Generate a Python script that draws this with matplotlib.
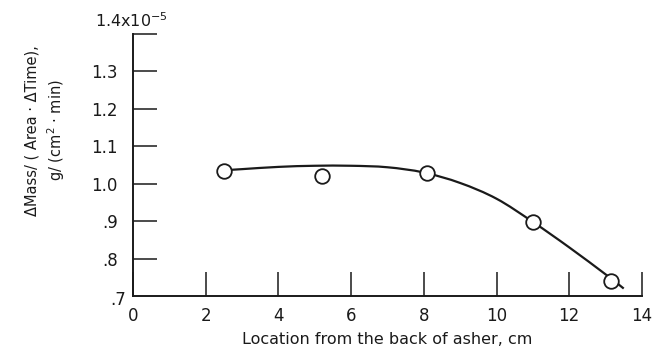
import matplotlib
matplotlib.use('Agg')
import matplotlib.pyplot as plt
from matplotlib.path import Path
from matplotlib.patches import PathPatch
import numpy as np

plt.rcParams['font.family'] = ['Liberation Sans Narrow', 'DejaVu Sans']

# measured points
location = [2.5, 5.2, 8.1, 11.0, 13.15]
rate = [1.034, 1.020, 1.030, 0.897, 0.740]

# faired curve through the data
curve_x = [2.5, 3.0, 4.0, 5.0, 6.0, 7.0, 8.0, 9.0, 10.0, 11.0, 12.0, 13.0, 13.5]
curve_y = [1.036, 1.039, 1.045, 1.048, 1.048, 1.044, 1.030, 1.002, 0.960, 0.898, 0.830, 0.758, 0.720]

xticks = [0, 2, 4, 6, 8, 10, 12, 14]
xtick_labels = ['0', '2', '4', '6', '8', '10', '12', '14']
yticks = [0.8, 0.9, 1.0, 1.1, 1.2, 1.3, 1.4]
ytick_labels = ['.8', '.9', '1.0', '1.1', '1.2', '1.3', '']

ink = '#1a1a1a'

fig = plt.figure(figsize=(6.53, 3.52), dpi=100)
ax = fig.add_axes([0.2037, 0.1590, 0.7793, 0.7444])
ax.set_xlim(0, 14)
ax.set_ylim(0.7, 1.4)


def smooth_path(xs, ys):
    # catmull-rom through the faired points, written as cubic bezier segments
    p = np.column_stack([xs, ys])
    verts = [p[0]]
    codes = [Path.MOVETO]
    for i in range(len(p) - 1):
        p0 = p[i - 1] if i > 0 else p[i]
        p3 = p[i + 2] if i + 2 < len(p) else p[i + 1]
        c1 = p[i] + (p[i + 1] - p0) / 6.0
        c2 = p[i + 1] - (p3 - p[i]) / 6.0
        verts += [c1, c2, p[i + 1]]
        codes += [Path.CURVE4] * 3
    return Path(verts, codes)


ax.add_patch(PathPatch(smooth_path(curve_x, curve_y), fill=False,
                       edgecolor=ink, lw=1.6, zorder=2))
ax.plot(location, rate, 'o', ms=10.5, mfc='white', mec=ink, mew=1.3, zorder=3)

ax.spines['top'].set_visible(False)
ax.spines['right'].set_visible(False)
for s in ('left', 'bottom'):
    ax.spines[s].set_linewidth(1.4)
    ax.spines[s].set_color(ink)

ax.set_xticks(xticks)
ax.set_xticklabels(xtick_labels)
ax.set_yticks(yticks)
ax.set_yticklabels(ytick_labels)
ax.tick_params(axis='x', direction='in', length=17, width=1.1, pad=8,
               labelsize=12, colors=ink)
ax.tick_params(axis='y', direction='in', length=17, width=1.1, pad=11,
               labelsize=12, colors=ink)

# corner labels
ax.text(-0.2, 0.69, '.7', ha='right', va='center', fontsize=12, color=ink)
ax.text(-1.05, 1.412, r'1.4x10$^{-5}$', ha='left', va='bottom', fontsize=11.5, color=ink)

ax.set_xlabel('Location from the back of asher, cm', fontsize=11.5, color=ink, labelpad=5)
fig.text(0.07, 0.63, 'ΔMass/ ( Area · ΔTime),\ng/ (cm$^2$ · min)', rotation=90,
         ha='center', va='center', fontsize=10.5, color=ink, linespacing=1.35)

fig.savefig('out.png', dpi=100)
